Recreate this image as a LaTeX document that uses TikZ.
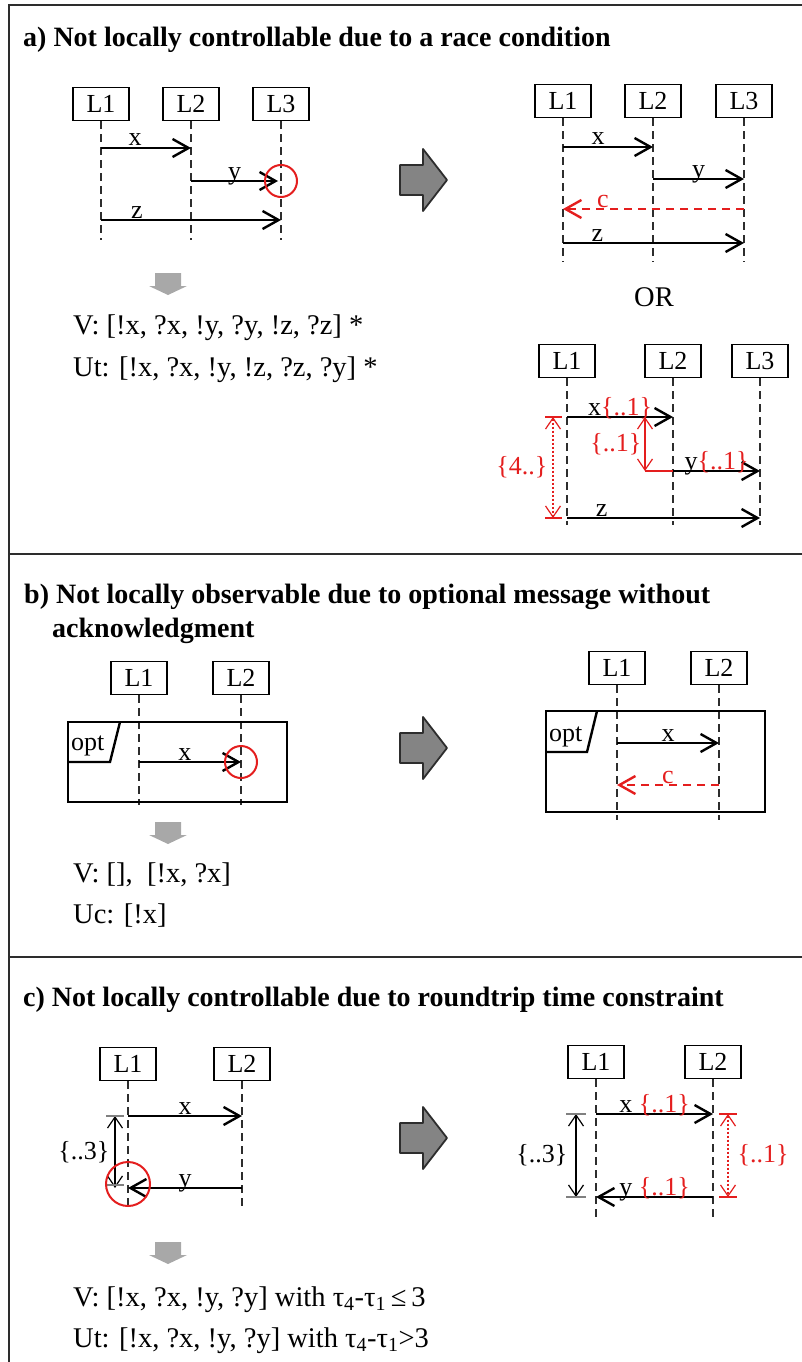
\documentclass[tikz,border=0pt]{standalone}
\usepackage{fontspec}
\setmainfont{Liberation Serif}
\usetikzlibrary{arrows.meta,positioning}

\definecolor{alert}{RGB}{228,30,30}
\definecolor{lifegray}{RGB}{45,45,45}
\definecolor{bigfill}{RGB}{132,132,132}
\definecolor{smallfill}{RGB}{168,168,168}

\begin{document}
\begin{tikzpicture}[x=1pt,y=-1pt,>={Straight Barb[length=16pt,width=18pt]},
                    line width=2.4pt,node distance=90pt,
                    font=\fontsize{26}{30}\selectfont]
  \tikzstyle{head}=[draw,line width=1.8pt,minimum width=56pt,minimum height=33pt,inner sep=0pt]
  \tikzstyle{life}=[lifegray,line width=1.9pt,dash pattern=on 8pt off 5pt]
  \tikzstyle{msg}=[->]
  \tikzstyle{ctrl}=[->,alert,dash pattern=on 8pt off 6pt]
  \tikzstyle{lbl}=[anchor=base,inner sep=0pt,yshift=2pt]
  \tikzstyle{bound}=[line width=1.2pt,>={Straight Barb[length=11pt,width=15pt]},<->]
  \tikzstyle{tick}=[line width=1.2pt]
  \tikzstyle{miss}=[alert,line width=2pt]
  \tikzstyle{title}=[anchor=base west,inner sep=0pt,font=\fontsize{28}{34}\selectfont\bfseries]
  \tikzstyle{trace}=[anchor=base west,inner sep=0pt,font=\fontsize{28.5}{34}\selectfont]
  \tikzstyle{optbox}=[line width=2.4pt]
  \tikzstyle{bigarrow}=[fill=bigfill,draw=lifegray,line width=1.8pt,line join=round]
  \tikzstyle{smallarrow}=[fill=smallfill,draw=none]

  \useasboundingbox (0,0) rectangle (802,1362);

  % outer frame and the two separators
  \draw[lifegray] (802,5) -- (9,5) -- (9,1362);
  \draw[lifegray] (9,554) -- (802,554);
  \draw[lifegray] (9,957) -- (802,957);

  % transformation arrows
  \foreach \y in {180,748,1138}
    \draw[bigarrow,shift={(400,\y)}] (0,-15) -- (23,-15) -- (23,-31) -- (47,0)
      -- (23,31) -- (23,15) -- (0,15) -- cycle;
  \foreach \y in {273,822,1242}
    \fill[smallarrow,shift={(168,\y)}] (-13,0) -- (13,0) -- (13,13) -- (19,13)
      -- (0,22) -- (-19,13) -- (-13,13) -- cycle;

  %%%% a) race condition
  \node[title] (ta) at (22,47) {a) Not locally controllable due to a race condition};

  \node[head] (aL1) at (101,104) {L1};
  \node[head] (aL2) [right of=aL1] {L2};
  \node[head] (aL3) [right of=aL2] {L3};
  \coordinate (aLend) at (0,240);
  \foreach \n in {aL1,aL2,aL3}
    \draw[life] (\n.south) -- (\n.south |- aLend);
  \coordinate (aLx) at (0,148);
  \coordinate (aLy) at (0,181);
  \coordinate (aLz) at (0,220);
  \path (aL1 |- aLx) edge[msg] node[lbl,pos=.38] {x} (aL2 |- aLx)
        (aL2 |- aLy) edge[msg] node[lbl] {y} ([xshift=-3pt]aL3 |- aLy)
        (aL1 |- aLz) edge[msg] node[lbl,pos=.2] {z} (aL3 |- aLz);
  \draw[miss] (aL3 |- aLy) circle[radius=16];

  \node[trace] (va) at (72,334) {V: [!x, ?x, !y, ?y, !z, ?z] *};
  \node[trace] (ua) at (72,376) {Ut: [!x, ?x, !y, !z, ?z, ?y] *};

  % fix with a control message
  \node[head] (aR1) at (563,101) {L1};
  \node[head] (aR2) [right of=aR1] {L2};
  \node[head] (aR3) [node distance=91pt,right of=aR2] {L3};
  \coordinate (aRend) at (0,262);
  \foreach \n in {aR1,aR2,aR3}
    \draw[life] (\n.south) -- (\n.south |- aRend);
  \coordinate (aRx) at (0,147);
  \coordinate (aRy) at (0,179);
  \coordinate (aRc) at (0,209);
  \coordinate (aRz) at (0,243);
  \path (aR1 |- aRx) edge[msg] node[lbl,pos=.39] {x} (aR2 |- aRx)
        (aR2 |- aRy) edge[msg] node[lbl] {y} (aR3 |- aRy)
        (aR3 |- aRc) edge[ctrl] node[lbl,alert,pos=.78] {c} (aR1 |- aRc)
        (aR1 |- aRz) edge[msg] node[lbl,pos=.19] {z} (aR3 |- aRz);

  \node[trace,anchor=base] (or) at (654,306) {OR};

  % fix with time constraints
  \node[head] (aS1) at (567,361) {L1};
  \node[head] (aS2) [node distance=106pt,right of=aS1] {L2};
  \node[head] (aS3) [node distance=87pt,right of=aS2] {L3};
  \coordinate (aSend) at (0,525);
  \foreach \n in {aS1,aS2,aS3}
    \draw[life] (\n.south) -- (\n.south |- aSend);
  \coordinate (aSx) at (0,417);
  \coordinate (aSy) at (0,471);
  \coordinate (aSz) at (0,518);
  \path (aS1 |- aSx) edge[msg] node[lbl] {x{\color{alert}\{..1\}}} (aS2 |- aSx)
        (aS2 |- aSy) edge[msg] node[lbl] {y{\color{alert}\{..1\}}} (aS3 |- aSy)
        (aS1 |- aSz) edge[msg] node[lbl,pos=.18] {z} (aS3 |- aSz);
  \coordinate (k4) at (553,0);
  \coordinate (k1) at (645,0);
  \draw[bound,alert,dash pattern=on 2pt off 2pt] (k4 |- aSx)
    -- node[left=5pt,inner sep=0pt] {\{4..\}} (k4 |- aSz);
  \draw[tick,alert] (k4 |- aSx) ++(-8,0) -- ++(17,0);
  \draw[tick,alert] (k4 |- aSz) ++(-8,0) -- ++(17,0);
  \draw[bound,alert] (k1 |- aSx) -- node[left=3pt,inner sep=0pt] {\{..1\}} (k1 |- aSy);
  \draw[tick,alert] (k1 |- aSy) -- (aS2 |- aSy);

  %%%% b) optional message
  \node[title] (tb1) at (23,603) {b) Not locally observable due to optional message without};
  \node[title] (tb2) at (51,637) {acknowledgment};

  \node[head] (bL1) at (139,678) {L1};
  \node[head] (bL2) [node distance=102pt,right of=bL1] {L2};
  \coordinate (bLend) at (0,805);
  \foreach \n in {bL1,bL2}
    \draw[life] (\n.south) -- (\n.south |- bLend);
  \draw[optbox] (68,722) rectangle (287,802);
  \draw[optbox] (68,762) -- (110,762) -- (120,722);
  \node[anchor=base west,inner sep=0pt] (bLopt) at (70,750) {opt};
  \coordinate (bLx) at (0,762);
  \path (bL1 |- bLx) edge[msg] node[lbl,pos=.45] {x} (bL2 |- bLx);
  \draw[miss] (bL2 |- bLx) circle[radius=16];

  \node[trace] (vb) at (72,882) {V: [],~ [!x, ?x]};
  \node[trace] (ub) at (72,923) {Uc: [!x]};

  \node[head] (bR1) at (617,668) {L1};
  \node[head] (bR2) [node distance=102pt,right of=bR1] {L2};
  \coordinate (bRend) at (0,820);
  \foreach \n in {bR1,bR2}
    \draw[life] (\n.south) -- (\n.south |- bRend);
  \draw[optbox] (546,711) rectangle (765,812);
  \draw[optbox] (546,752) -- (587,752) -- (597,711);
  \node[anchor=base west,inner sep=0pt] (bRopt) at (548,741) {opt};
  \coordinate (bRx) at (0,743);
  \coordinate (bRc) at (0,785);
  \path (bR1 |- bRx) edge[msg] node[lbl] {x} (bR2 |- bRx)
        (bR2 |- bRc) edge[ctrl] node[lbl,alert] {c} (bR1 |- bRc);

  %%%% c) roundtrip constraint
  \node[title] (tc) at (22,1006) {c) Not locally controllable due to roundtrip time constraint};

  \node[head] (cL1) at (128,1064) {L1};
  \node[head] (cL2) [node distance=114pt,right of=cL1] {L2};
  \coordinate (cLend) at (0,1207);
  \foreach \n in {cL1,cL2}
    \draw[life] (\n.south) -- (\n.south |- cLend);
  \coordinate (cLx) at (0,1116);
  \coordinate (cLy) at (0,1188);
  \path (cL1 |- cLx) edge[msg] node[lbl] {x} (cL2 |- cLx)
        (cL2 |- cLy) edge[msg] node[lbl] {y} (cL1 |- cLy);
  \coordinate (k3) at (115,0);
  \draw[bound] (k3 |- cLx) -- node[left=5pt,inner sep=0pt] {\{..3\}} (k3 |- cLy);
  \draw[tick,gray] (k3 |- cLx) ++(-9,0) -- ++(18,0);
  \draw[tick,gray] (k3 |- cLy) ++(-9,-3) -- ++(18,0);
  \draw[miss] ([yshift=4pt]cL1 |- cLy) circle[radius=22];

  \node[trace] (vc) at (72,1306) {V: [!x, ?x, !y, ?y] with τ\textsubscript{4}-τ\textsubscript{1}\,≤\,3};
  \node[trace] (uc) at (72,1347) {Ut: [!x, ?x, !y, ?y] with τ\textsubscript{4}-τ\textsubscript{1}>3};

  \node[head] (cR1) at (596,1062) {L1};
  \node[head] (cR2) [node distance=117pt,right of=cR1] {L2};
  \coordinate (cRend) at (0,1217);
  \foreach \n in {cR1,cR2}
    \draw[life] (\n.south) -- (\n.south |- cRend);
  \coordinate (cRx) at (0,1114);
  \coordinate (cRy) at (0,1197);
  \path (cR1 |- cRx) edge[msg] node[lbl] {x~{\color{alert}\{..1\}}} (cR2 |- cRx)
        (cR2 |- cRy) edge[msg] node[lbl] {y~{\color{alert}\{..1\}}} (cR1 |- cRy);
  \coordinate (k5) at (576,0);
  \coordinate (k6) at (728,0);
  \draw[bound] (k5 |- cRx) -- node[left=8pt,inner sep=0pt] {\{..3\}} (k5 |- cRy);
  \draw[tick,gray] (k5 |- cRx) ++(-10,0) -- ++(20,0);
  \draw[tick,gray] (k5 |- cRy) ++(-10,0) -- ++(20,0);
  \draw[bound,alert,dash pattern=on 2pt off 2pt] (k6 |- cRx)
    -- node[right=9pt,inner sep=0pt] {\{..1\}} (k6 |- cRy);
  \draw[tick,alert] (k6 |- cRx) ++(-9,0) -- ++(18,0);
  \draw[tick,alert] (k6 |- cRy) ++(-9,0) -- ++(18,0);
\end{tikzpicture}
\end{document}
